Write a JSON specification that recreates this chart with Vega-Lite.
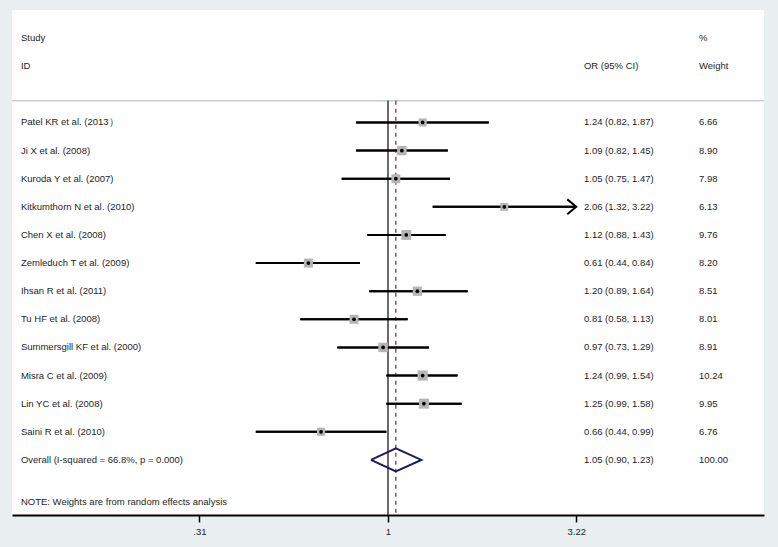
{
  "$schema": "https://vega.github.io/schema/vega-lite/v6.json",
  "autosize": {"type": "none"},
  "width": 752,
  "height": 505,
  "padding": {"left": 12, "top": 10, "right": 14, "bottom": 32},
  "background": "#e9eff1",
  "data": {"values": [{"anchor": 1}]},
  "config": {
    "view": {"fill": "white", "stroke": null},
    "font": "Liberation Sans",
    "text": {"font": "Liberation Sans", "fontSize": 9.5, "color": "#1e1e1e", "baseline": "middle", "align": "left"}
  },
  "datasets": {
    "rows": [
      {"row": 1, "type": "study", "study": "Patel KR et al. (2013）", "or": 1.24, "lo": 0.82, "hi": 1.87, "w": 6.66, "ci": "1.24 (0.82, 1.87)", "wt": "6.66"},
      {"row": 2, "type": "study", "study": "Ji X et al. (2008)", "or": 1.09, "lo": 0.82, "hi": 1.45, "w": 8.90, "ci": "1.09 (0.82, 1.45)", "wt": "8.90"},
      {"row": 3, "type": "study", "study": "Kuroda Y et al. (2007)", "or": 1.05, "lo": 0.75, "hi": 1.47, "w": 7.98, "ci": "1.05 (0.75, 1.47)", "wt": "7.98"},
      {"row": 4, "type": "study", "study": "Kitkumthorn N et al. (2010)", "or": 2.06, "lo": 1.32, "hi": 3.22, "w": 6.13, "ci": "2.06 (1.32, 3.22)", "wt": "6.13"},
      {"row": 5, "type": "study", "study": "Chen X et al. (2008)", "or": 1.12, "lo": 0.88, "hi": 1.43, "w": 9.76, "ci": "1.12 (0.88, 1.43)", "wt": "9.76"},
      {"row": 6, "type": "study", "study": "Zemleduch T et al. (2009)", "or": 0.61, "lo": 0.44, "hi": 0.84, "w": 8.20, "ci": "0.61 (0.44, 0.84)", "wt": "8.20"},
      {"row": 7, "type": "study", "study": "Ihsan R et al. (2011)", "or": 1.20, "lo": 0.89, "hi": 1.64, "w": 8.51, "ci": "1.20 (0.89, 1.64)", "wt": "8.51"},
      {"row": 8, "type": "study", "study": "Tu HF et al. (2008)", "or": 0.81, "lo": 0.58, "hi": 1.13, "w": 8.01, "ci": "0.81 (0.58, 1.13)", "wt": "8.01"},
      {"row": 9, "type": "study", "study": "Summersgill KF et al. (2000)", "or": 0.97, "lo": 0.73, "hi": 1.29, "w": 8.91, "ci": "0.97 (0.73, 1.29)", "wt": "8.91"},
      {"row": 10, "type": "study", "study": "Misra C et al. (2009)", "or": 1.24, "lo": 0.99, "hi": 1.54, "w": 10.24, "ci": "1.24 (0.99, 1.54)", "wt": "10.24"},
      {"row": 11, "type": "study", "study": "Lin YC et al. (2008)", "or": 1.25, "lo": 0.99, "hi": 1.58, "w": 9.95, "ci": "1.25 (0.99, 1.58)", "wt": "9.95"},
      {"row": 12, "type": "study", "study": "Saini R et al. (2010)", "or": 0.66, "lo": 0.44, "hi": 0.99, "w": 6.76, "ci": "0.66 (0.44, 0.99)", "wt": "6.76"},
      {"row": 13, "type": "overall", "study": "Overall  (I-squared = 66.8%, p = 0.000)", "or": 1.05, "lo": 0.90, "hi": 1.23, "w": 100.00, "ci": "1.05 (0.90, 1.23)", "wt": "100.00"}
    ],
    "diamond": [
      {"v": 1, "x": 0.90, "y": 13},
      {"v": 2, "x": 1.05, "y": 12.59},
      {"v": 3, "x": 1.23, "y": 13},
      {"v": 4, "x": 1.05, "y": 13.41},
      {"v": 5, "x": 0.90, "y": 13}
    ]
  },
  "layer": [
    {
      "data": {"name": "rows"},
      "transform": [{"filter": "datum.type == 'study'"}],
      "mark": {"type": "rule", "color": "#000000", "strokeWidth": 2},
      "encoding": {
        "x": {
          "field": "lo", "type": "quantitative",
          "scale": {"type": "log", "domain": [0.09679, 10.333], "nice": false},
          "axis": {
            "title": null, "grid": false, "values": [0.31, 1, 3.22],
            "labelExpr": "datum.value < 0.5 ? '.31' : datum.value < 2 ? '1' : '3.22'",
            "domainColor": "#000000", "domainWidth": 2,
            "tickColor": "#000000", "tickWidth": 1.5, "tickSize": 7,
            "labelFont": "Liberation Sans", "labelFontSize": 9.5, "labelColor": "#1e1e1e",
            "labelPadding": 4, "labelFlush": false, "labelOverlap": false
          }
        },
        "x2": {"field": "hi"},
        "y": {"field": "row", "type": "quantitative", "scale": {"domain": [-3, 14.96], "reverse": true, "nice": false, "zero": false}, "axis": null}
      }
    },
    {
      "mark": {"type": "rule", "color": "#c9c9c9", "strokeWidth": 1.5},
      "encoding": {
        "y": {"datum": 0.23, "type": "quantitative", "scale": {"domain": [-3, 14.96], "reverse": true, "nice": false, "zero": false}, "axis": null}
      }
    },
    {
      "mark": {"type": "rule", "color": "#1a1a1a", "strokeWidth": 1.3},
      "encoding": {
        "x": {"datum": 1, "type": "quantitative", "scale": {"type": "log", "domain": [0.09679, 10.333], "nice": false}},
        "y": {"datum": 0.23, "type": "quantitative", "scale": {"domain": [-3, 14.96], "reverse": true, "nice": false, "zero": false}, "axis": null},
        "y2": {"datum": 14.96}
      }
    },
    {
      "mark": {"type": "rule", "color": "#8b2f4f", "strokeWidth": 1.3, "strokeDash": [4, 4]},
      "encoding": {
        "x": {"datum": 1.05, "type": "quantitative", "scale": {"type": "log", "domain": [0.09679, 10.333], "nice": false}},
        "y": {"datum": 0.23, "type": "quantitative", "scale": {"domain": [-3, 14.96], "reverse": true, "nice": false, "zero": false}, "axis": null},
        "y2": {"datum": 14.96}
      }
    },
    {
      "data": {"name": "rows"},
      "transform": [{"filter": "datum.type == 'study'"}],
      "mark": {"type": "rule", "color": "#000000", "strokeWidth": 2},
      "encoding": {
        "x": {"field": "lo", "type": "quantitative", "scale": {"type": "log", "domain": [0.09679, 10.333], "nice": false}},
        "x2": {"field": "hi"},
        "y": {"field": "row", "type": "quantitative", "scale": {"domain": [-3, 14.96], "reverse": true, "nice": false, "zero": false}, "axis": null}
      }
    },
    {
      "data": {"name": "rows"},
      "transform": [{"filter": "datum.type == 'study' && datum.hi >= 3.22"}],
      "mark": {"type": "point", "shape": "M -1 -0.83 L 0 0 L -1 0.83", "filled": false, "stroke": "#000000", "strokeWidth": 2, "size": 324, "opacity": 1},
      "encoding": {
        "x": {"field": "hi", "type": "quantitative", "scale": {"type": "log", "domain": [0.09679, 10.333], "nice": false}},
        "y": {"field": "row", "type": "quantitative", "scale": {"domain": [-3, 14.96], "reverse": true, "nice": false, "zero": false}, "axis": null}
      }
    },
    {
      "data": {"name": "rows"},
      "transform": [{"filter": "datum.type == 'study'"}],
      "mark": {"type": "point", "shape": "square", "filled": true, "color": "#b5b5b5", "opacity": 1},
      "encoding": {
        "x": {"field": "or", "type": "quantitative", "scale": {"type": "log", "domain": [0.09679, 10.333], "nice": false}},
        "y": {"field": "row", "type": "quantitative", "scale": {"domain": [-3, 14.96], "reverse": true, "nice": false, "zero": false}, "axis": null},
        "size": {"field": "w", "type": "quantitative", "scale": {"type": "linear", "domain": [0, 10], "range": [0, 100]}, "legend": null}
      }
    },
    {
      "data": {"name": "rows"},
      "transform": [{"filter": "datum.type == 'study'"}],
      "mark": {"type": "point", "shape": "circle", "filled": true, "color": "#000000", "size": 14, "opacity": 1},
      "encoding": {
        "x": {"field": "or", "type": "quantitative", "scale": {"type": "log", "domain": [0.09679, 10.333], "nice": false}},
        "y": {"field": "row", "type": "quantitative", "scale": {"domain": [-3, 14.96], "reverse": true, "nice": false, "zero": false}, "axis": null}
      }
    },
    {
      "data": {"name": "diamond"},
      "mark": {"type": "line", "color": "#1b1b5e", "strokeWidth": 2, "strokeJoin": "miter"},
      "encoding": {
        "x": {"field": "x", "type": "quantitative", "scale": {"type": "log", "domain": [0.09679, 10.333], "nice": false}},
        "y": {"field": "y", "type": "quantitative", "scale": {"domain": [-3, 14.96], "reverse": true, "nice": false, "zero": false}, "axis": null},
        "order": {"field": "v", "type": "quantitative"}
      }
    },
    {
      "data": {"name": "rows"},
      "mark": {"type": "text"},
      "encoding": {
        "x": {"datum": 0.1023, "type": "quantitative", "scale": {"type": "log", "domain": [0.09679, 10.333], "nice": false}},
        "y": {"field": "row", "type": "quantitative", "scale": {"domain": [-3, 14.96], "reverse": true, "nice": false, "zero": false}, "axis": null},
        "text": {"field": "study"}
      }
    },
    {
      "data": {"name": "rows"},
      "mark": {"type": "text"},
      "encoding": {
        "x": {"datum": 3.378, "type": "quantitative", "scale": {"type": "log", "domain": [0.09679, 10.333], "nice": false}},
        "y": {"field": "row", "type": "quantitative", "scale": {"domain": [-3, 14.96], "reverse": true, "nice": false, "zero": false}, "axis": null},
        "text": {"field": "ci"}
      }
    },
    {
      "data": {"name": "rows"},
      "mark": {"type": "text"},
      "encoding": {
        "x": {"datum": 6.901, "type": "quantitative", "scale": {"type": "log", "domain": [0.09679, 10.333], "nice": false}},
        "y": {"field": "row", "type": "quantitative", "scale": {"domain": [-3, 14.96], "reverse": true, "nice": false, "zero": false}, "axis": null},
        "text": {"field": "wt"}
      }
    },
    {
      "mark": {"type": "text"},
      "encoding": {
        "x": {"datum": 0.1023, "type": "quantitative", "scale": {"type": "log", "domain": [0.09679, 10.333], "nice": false}},
        "y": {"datum": -2, "type": "quantitative", "scale": {"domain": [-3, 14.96], "reverse": true, "nice": false, "zero": false}, "axis": null},
        "text": {"value": "Study"}
      }
    },
    {
      "mark": {"type": "text"},
      "encoding": {
        "x": {"datum": 0.1023, "type": "quantitative", "scale": {"type": "log", "domain": [0.09679, 10.333], "nice": false}},
        "y": {"datum": -1, "type": "quantitative", "scale": {"domain": [-3, 14.96], "reverse": true, "nice": false, "zero": false}, "axis": null},
        "text": {"value": "ID"}
      }
    },
    {
      "mark": {"type": "text"},
      "encoding": {
        "x": {"datum": 3.378, "type": "quantitative", "scale": {"type": "log", "domain": [0.09679, 10.333], "nice": false}},
        "y": {"datum": -1, "type": "quantitative", "scale": {"domain": [-3, 14.96], "reverse": true, "nice": false, "zero": false}, "axis": null},
        "text": {"value": "OR (95% CI)"}
      }
    },
    {
      "mark": {"type": "text"},
      "encoding": {
        "x": {"datum": 6.901, "type": "quantitative", "scale": {"type": "log", "domain": [0.09679, 10.333], "nice": false}},
        "y": {"datum": -2, "type": "quantitative", "scale": {"domain": [-3, 14.96], "reverse": true, "nice": false, "zero": false}, "axis": null},
        "text": {"value": "%"}
      }
    },
    {
      "mark": {"type": "text"},
      "encoding": {
        "x": {"datum": 6.901, "type": "quantitative", "scale": {"type": "log", "domain": [0.09679, 10.333], "nice": false}},
        "y": {"datum": -1, "type": "quantitative", "scale": {"domain": [-3, 14.96], "reverse": true, "nice": false, "zero": false}, "axis": null},
        "text": {"value": "Weight"}
      }
    },
    {
      "mark": {"type": "text"},
      "encoding": {
        "x": {"datum": 0.1023, "type": "quantitative", "scale": {"type": "log", "domain": [0.09679, 10.333], "nice": false}},
        "y": {"datum": 14.5, "type": "quantitative", "scale": {"domain": [-3, 14.96], "reverse": true, "nice": false, "zero": false}, "axis": null},
        "text": {"value": "NOTE: Weights are from random effects analysis"}
      }
    }
  ]
}
